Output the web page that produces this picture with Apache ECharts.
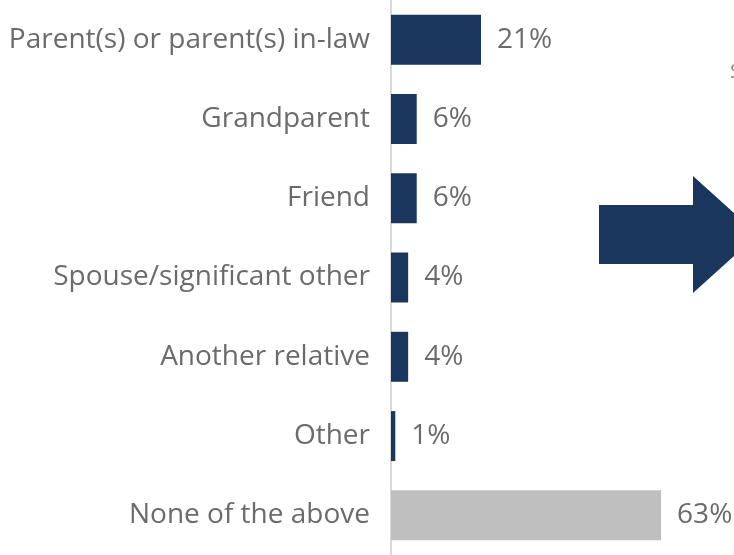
<!DOCTYPE html>
<html><head><meta charset="utf-8">
<script src="https://cdn.jsdelivr.net/npm/echarts@6/dist/echarts.min.js"></script>
<style>html,body{margin:0;padding:0;background:#fff}#c{width:734px;height:555px}</style>
</head><body><div id="c"></div>
<script>
const categories = ["Parent(s) or parent(s) in-law","Grandparent","Friend","Spouse/significant other","Another relative","Other","None of the above"];
const values = [21, 6, 6, 4, 4, 1, 63];
const barColors = ["#1b365d","#1b365d","#1b365d","#1b365d","#1b365d","#1b365d","#bfbfbf"];

const chart = echarts.init(document.getElementById('c'));
const font = '"Open Sans", sans-serif';
chart.setOption({
  animation: false,
  grid: {left: 391, right: 0, top: 0, bottom: 0, containLabel: false},
  xAxis: {type: 'value', min: 0, max: 80, show: false},
  yAxis: {
    type: 'category', data: categories, inverse: true,
    axisLine: {show: true, lineStyle: {color: '#d9d9d9', width: 2}},
    axisTick: {show: false},
    axisLabel: {color: '#6b6b6b', fontSize: 28, fontFamily: font, margin: 21, padding: [7, 0, 0, 0]}
  },
  series: [{
    type: 'bar', barWidth: 50,
    data: values.map((v, i) => ({value: v, itemStyle: {color: barColors[i]}})),
    label: {show: true, position: 'right', distance: 16, formatter: '{c}%', color: '#6b6b6b', fontSize: 28, fontFamily: font, padding: [7, 0, 0, 0]}
  }],
  graphic: [
    {type: 'polygon', shape: {points: [[599,205],[693,205],[693,176],[758,234.5],[693,293],[693,264],[599,264]]}, style: {fill: '#1b365d'}},
    {type: 'text', left: 730, top: 62, style: {text: 'S', fill: '#8c8c8c', font: '20px "Open Sans"'}}
  ]
});
</script></body></html>
